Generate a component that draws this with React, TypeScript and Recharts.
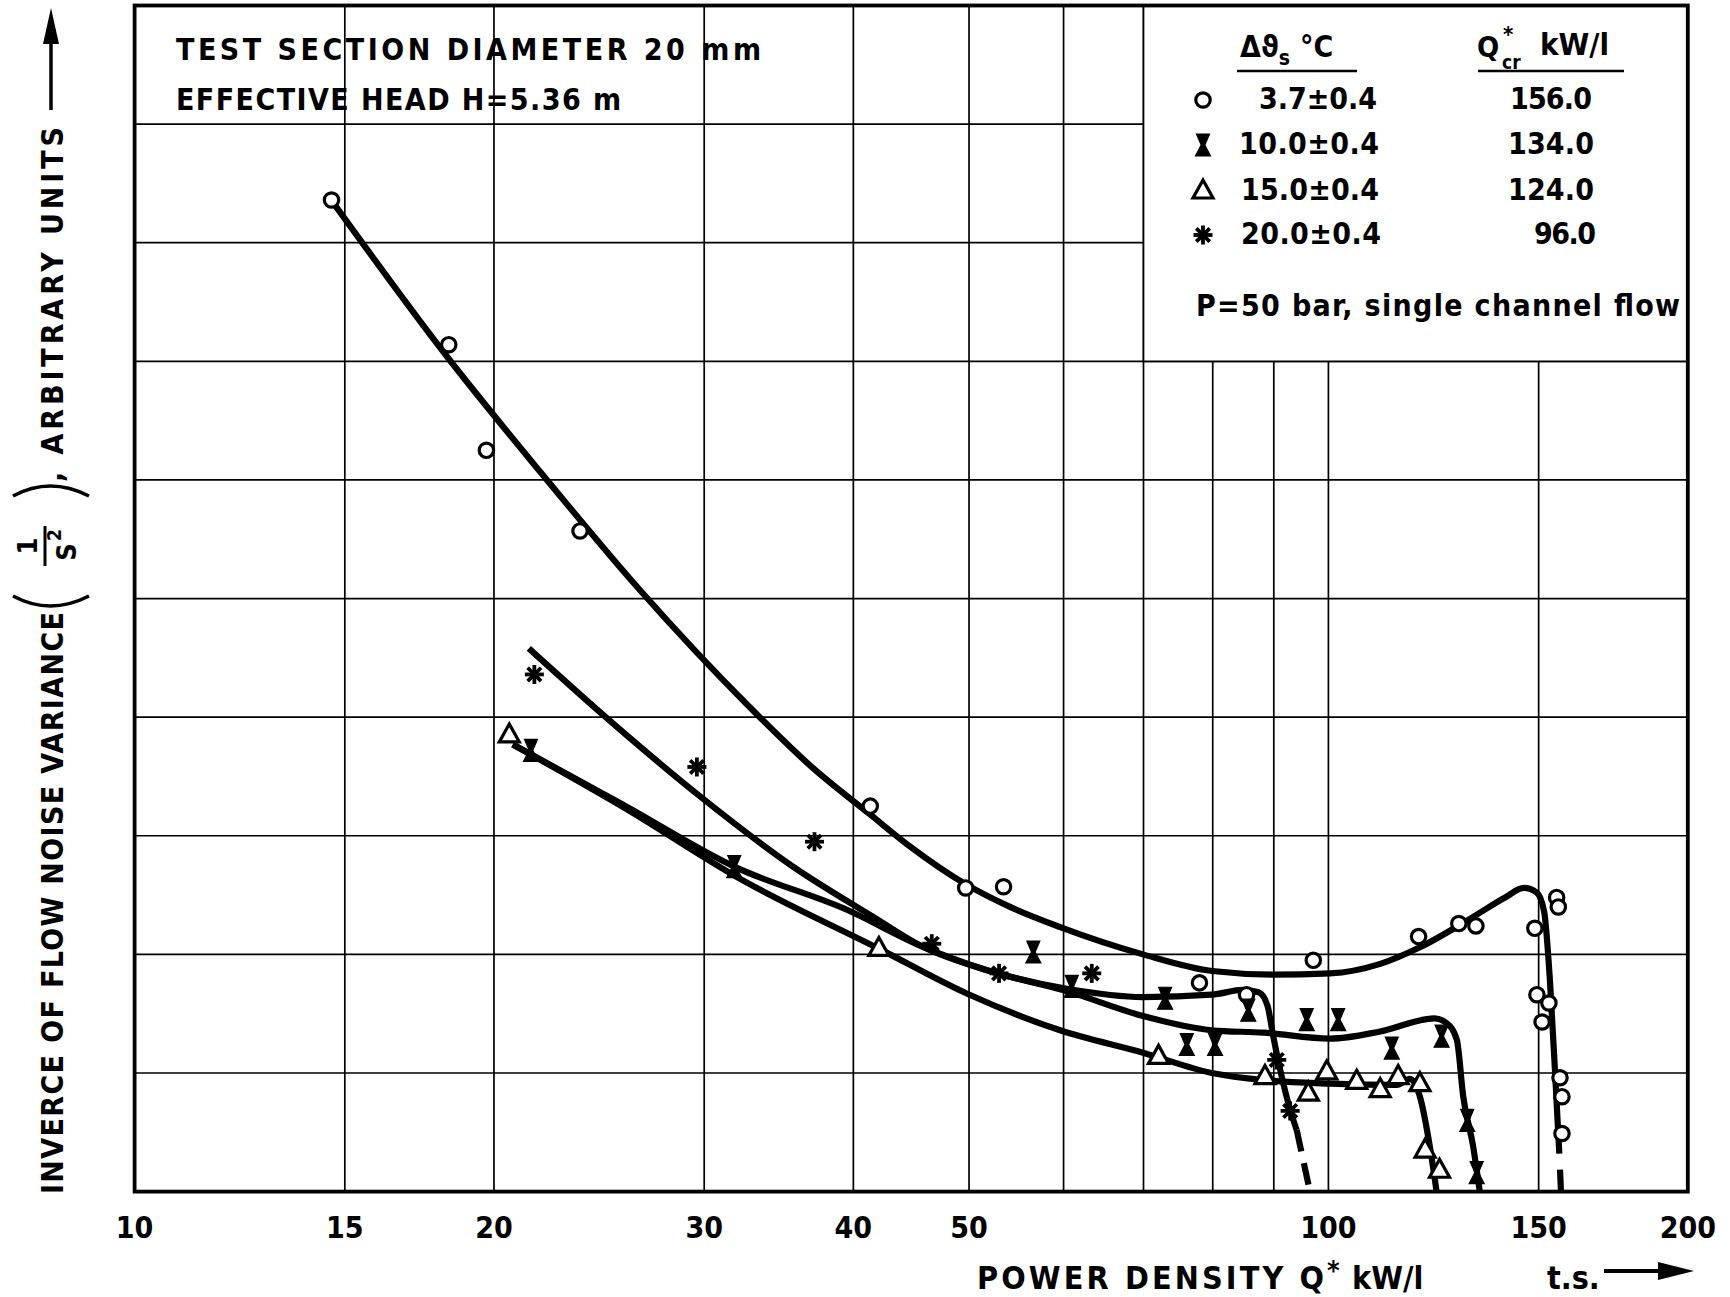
import React from 'react';
import { ComposedChart, Line, Scatter, XAxis, YAxis, CartesianGrid, ReferenceArea } from 'recharts';

const W = 1730;
const H = 1297;
const FONT = "'DejaVu Sans Condensed', 'DejaVu Sans', sans-serif";

// ---- axes ----
const xTicks = [10, 15, 20, 30, 40, 50, 60, 70, 80, 90, 100, 150, 200];
const xLabelled = [10, 15, 20, 30, 40, 50, 100, 150, 200];
const yTicks = [0, 1, 2, 3, 4, 5, 6, 7, 8, 9, 10];

// ---- measured points (Q* kW/l, arbitrary units) ----
const circlePts: [number, number][] = [
  [14.62, 8.36], [18.33, 7.14], [19.71, 6.25], [23.61, 5.57], [41.33, 3.25], [49.68, 2.56],
  [53.44, 2.57], [77.98, 1.76], [85.39, 1.66], [97.13, 1.95], [118.99, 2.15], [128.6, 2.26],
  [132.9, 2.24], [148.9, 2.22], [155.3, 2.48], [155.8, 2.40], [149.5, 1.66], [151.0, 1.43],
  [153.0, 1.59], [156.3, 0.96], [156.9, 0.80], [156.9, 0.49],
];
const hourglassPts: [number, number][] = [
  [21.48, 3.72], [31.79, 2.74], [56.6, 2.02], [60.96, 1.73], [72.98, 1.63], [85.68, 1.53],
  [76.1, 1.24], [80.36, 1.24], [95.9, 1.45], [101.9, 1.45], [113.0, 1.21], [124.4, 1.31],
  [130.7, 0.60], [133.1, 0.16],
];
const trianglePts: [number, number][] = [
  [20.6, 3.85], [42.02, 2.05], [72.06, 1.14], [88.48, 0.97], [96.2, 0.83], [99.68, 1.01],
  [105.6, 0.93], [110.5, 0.86], [114.4, 0.97], [119.3, 0.91], [120.5, 0.35], [123.9, 0.18],
];
const asteriskPts: [number, number][] = [
  [21.62, 4.36], [29.58, 3.58], [37.11, 2.95], [46.53, 2.09], [52.98, 1.84], [63.35, 1.84],
  [90.51, 1.11], [92.88, 0.68],
];

// ---- fitted curves ----
const circleCurve: [number, number][] = [
  [14.66, 8.34], [18.3, 7.03], [21.9, 6.06], [26.51, 5.07], [32.71, 4.09], [37.01, 3.57],
  [41.31, 3.18], [44.62, 2.91], [49.71, 2.59], [54.12, 2.4], [59.6, 2.23], [69.94, 2.0],
  [79.91, 1.86], [89.86, 1.83], [100.3, 1.84], [110.5, 1.92], [119.3, 2.06], [131.9, 2.31],
  [140.6, 2.48], [145.8, 2.56], [149.5, 2.52], [151.6, 2.36], [153.3, 1.78], [155.0, 0.91],
  [156.1, 0.32],
];
const circleTail: [number, number][] = [[156.1, 0.32], [156.6, 0]];
const asteriskCurve: [number, number][] = [
  [21.39, 4.58], [24.81, 4.0], [29.78, 3.33], [35.6, 2.74], [41.5, 2.32], [45.6, 2.07],
  [51.6, 1.87], [60.38, 1.71], [69.93, 1.64], [79.86, 1.66], [84.8, 1.70], [87.4, 1.68],
  [88.9, 1.57], [89.9, 1.31], [91.1, 1.03], [92.88, 0.69], [94.06, 0.52],
];
const asteriskTail: [number, number][] = [[94.06, 0.52], [96.5, 0]];
const hourglassCurve: [number, number][] = [
  [20.74, 3.77], [25.68, 3.26], [31.79, 2.74], [39.63, 2.37], [45.6, 2.07], [51.6, 1.87],
  [60.38, 1.69], [69.93, 1.48], [79.86, 1.36], [88.2, 1.34], [100.3, 1.29], [110.5, 1.35],
  [122.7, 1.46], [125.6, 1.42], [128.1, 1.28], [129.7, 0.8], [132.2, 0.38], [133.9, 0],
];
const triangleCurve: [number, number][] = [
  [20.74, 3.77], [25.68, 3.24], [32.24, 2.63], [42.17, 2.04], [49.78, 1.67], [59.6, 1.36],
  [69.96, 1.17], [79.86, 1.0], [88.2, 0.94], [100.3, 0.91], [114.1, 0.9], [117.0, 0.95],
  [119.3, 0.8], [121.6, 0.38], [123.2, 0],
];

// ---- legend table ----
const legendDelta = ['3.7±0.4', '10.0±0.4', '15.0±0.4', '20.0±0.4'];
const legendQcr = ['156.0', '134.0', '124.0', '96.0'];

const toPts = (a: [number, number][]) => a.map(([x, y]) => ({ x, y }));

// ---- glyphs ----
const CircleGlyph = ({ cx, cy }: any) => (
  <circle cx={cx} cy={cy} r={7.2} fill="#fff" stroke="#000" strokeWidth={3.2} />
);
const TriangleGlyph = ({ cx, cy }: any) => (
  <path d={`M${cx},${cy - 11} L${cx + 10},${cy + 7} L${cx - 10},${cy + 7} Z`} fill="#fff" stroke="#000" strokeWidth={3.2} />
);
const HourglassGlyph = ({ cx, cy }: any) => (
  <path
    d={`M${cx - 6.5},${cy - 11} H${cx + 6.5} L${cx + 1.8},${cy} L${cx + 7.5},${cy + 11} H${cx - 7.5} L${cx - 1.8},${cy} Z`}
    fill="#000" stroke="#000" strokeWidth={1.2}
  />
);
const AsteriskGlyph = ({ cx, cy }: any) => {
  const r = 9.5;
  const spokes = [0, 45, 90, 135].map((a) => {
    const t = (a * Math.PI) / 180;
    return (
      <line key={a} x1={cx - r * Math.cos(t)} y1={cy - r * Math.sin(t)} x2={cx + r * Math.cos(t)} y2={cy + r * Math.sin(t)}
        stroke="#000" strokeWidth={3.8} />
    );
  });
  return <g>{spokes}</g>;
};

const txt = { fontFamily: FONT, fontWeight: 700, fill: '#000', style: { fontStretch: 'condensed' } } as const;

const XTick = (props: any) => {
  const { x, payload } = props;
  if (!xLabelled.includes(payload.value)) return <g />;
  return (
    <text x={x} y={1238} textAnchor="middle" fontSize={30} {...txt}>
      {String(payload.value)}
    </text>
  );
};
const NoTick = () => <g />;

const curveProps = {
  dataKey: 'y',
  type: 'monotone' as const,
  stroke: '#000',
  strokeWidth: 6.2,
  dot: false,
  activeDot: false,
  isAnimationActive: false,
  legendType: 'none' as const,
};

export default function App() {
  return (
    <div style={{ position: 'absolute', left: 0, top: 0, width: W, height: H, background: '#fff' }}>
      <div style={{ position: 'absolute', left: 0, top: 0 }}>
        <ComposedChart width={W} height={H} margin={{ top: 5.5, right: 42.2, left: 134.6, bottom: 75.4 }}>
          <CartesianGrid stroke="#000" strokeWidth={1.7} horizontalValues={yTicks} verticalValues={xTicks} />
          <XAxis
            dataKey="x"
            type="number"
            scale="log"
            domain={[10, 200]}
            ticks={xTicks}
            interval={0}
            allowDataOverflow
            axisLine={false}
            tickLine={false}
            height={30}
            tick={<XTick />}
          />
          <YAxis
            dataKey="y"
            type="number"
            domain={[0, 10]}
            ticks={yTicks}
            interval={0}
            allowDataOverflow
            axisLine={false}
            tickLine={false}
            tick={<NoTick />}
            width={0}
          />
          <ReferenceArea x1={70} x2={200} y1={7} y2={10} fill="#fff" fillOpacity={1} stroke="#000" strokeWidth={1.7} ifOverflow="visible" />
          <Line data={toPts(circleCurve)} {...curveProps} />
          <Line data={toPts(circleTail)} {...curveProps} type="linear" strokeDasharray="0 16 40" />
          <Line data={toPts(asteriskCurve)} {...curveProps} />
          <Line data={toPts(asteriskTail)} {...curveProps} type="linear" strokeDasharray="22 12" />
          <Line data={toPts(hourglassCurve)} {...curveProps} />
          <Line data={toPts(triangleCurve)} {...curveProps} />
          <Scatter data={toPts(circlePts)} shape={(p: any) => <CircleGlyph cx={p.cx} cy={p.cy} />} isAnimationActive={false} />
          <Scatter data={toPts(hourglassPts)} shape={(p: any) => <HourglassGlyph cx={p.cx} cy={p.cy} />} isAnimationActive={false} />
          <Scatter data={toPts(trianglePts)} shape={(p: any) => <TriangleGlyph cx={p.cx} cy={p.cy} />} isAnimationActive={false} />
          <Scatter data={toPts(asteriskPts)} shape={(p: any) => <AsteriskGlyph cx={p.cx} cy={p.cy} />} isAnimationActive={false} />
        </ComposedChart>
      </div>
      <svg width={W} height={H} style={{ position: 'absolute', left: 0, top: 0, pointerEvents: 'none' }}>
        {/* plot frame */}
        <rect x={134.6} y={5.5} width={1553.2} height={1186.1} fill="none" stroke="#000" strokeWidth={3.8} />

        {/* top-left notes */}
        <text x={176} y={60} fontSize={30} textLength={585} lengthAdjust="spacing" {...txt}>TEST SECTION DIAMETER 20 mm</text>
        <text x={176} y={110} fontSize={30} textLength={445} lengthAdjust="spacing" {...txt}>EFFECTIVE HEAD H=5.36 m</text>

        {/* legend header */}
        <text x={1240} y={57} fontSize={30} {...txt}>
          <tspan>Δϑ</tspan>
          <tspan dy={8} fontSize={21}>s</tspan>
          <tspan dy={-8} dx={10}>°C</tspan>
        </text>
        <line x1={1237} y1={71} x2={1357} y2={71} stroke="#000" strokeWidth={2.5} />
        <text x={1477} y={57} fontSize={29} {...txt}>Q</text>
        <text x={1503} y={42} fontSize={22} {...txt}>*</text>
        <text x={1502} y={69} fontSize={19} {...txt}>cr</text>
        <text x={1540} y={55} fontSize={31} {...txt}>kW/l</text>
        <line x1={1478} y1={71} x2={1624} y2={71} stroke="#000" strokeWidth={2.5} />

        {/* legend rows */}
        <CircleGlyph cx={1203} cy={100} />
        <HourglassGlyph cx={1203} cy={145} />
        <TriangleGlyph cx={1203} cy={191} />
        <AsteriskGlyph cx={1203} cy={235} />
        <text x={1259} y={109} fontSize={30} textLength={118} lengthAdjust="spacing" {...txt}>{legendDelta[0]}</text>
        <text x={1239} y={154} fontSize={30} textLength={140} lengthAdjust="spacing" {...txt}>{legendDelta[1]}</text>
        <text x={1241} y={200} fontSize={30} textLength={138} lengthAdjust="spacing" {...txt}>{legendDelta[2]}</text>
        <text x={1241} y={244} fontSize={30} textLength={140} lengthAdjust="spacing" {...txt}>{legendDelta[3]}</text>
        <text x={1510} y={109} fontSize={30} textLength={82} lengthAdjust="spacing" {...txt}>{legendQcr[0]}</text>
        <text x={1508} y={154} fontSize={30} textLength={86} lengthAdjust="spacing" {...txt}>{legendQcr[1]}</text>
        <text x={1508} y={200} fontSize={30} textLength={86} lengthAdjust="spacing" {...txt}>{legendQcr[2]}</text>
        <text x={1534} y={244} fontSize={30} textLength={62} lengthAdjust="spacing" {...txt}>{legendQcr[3]}</text>
        <text x={1196} y={316} fontSize={30} textLength={484} lengthAdjust="spacing" {...txt}>P=50 bar, single channel flow</text>

        {/* x-axis title */}
        <text x={977} y={1289} fontSize={32} {...txt}>
          <tspan textLength={347} lengthAdjust="spacing">POWER DENSITY Q</tspan>
          <tspan dy={-9} fontSize={27}>*</tspan>
          <tspan x={1352} dy={9}>kW/l</tspan>
        </text>
        <text x={1547} y={1289} fontSize={32} {...txt}>t.s.</text>
        <line x1={1604} y1={1271} x2={1665} y2={1271} stroke="#000" strokeWidth={4} />
        <path d="M1658,1262 L1694,1271 L1658,1280 Z" fill="#000" />

        {/* y-axis title (rotated) */}
        <g transform="translate(63,1194) rotate(-90)">
          <text x={0} y={0} fontSize={30} textLength={582} lengthAdjust="spacing" {...txt}>INVERCE OF FLOW NOISE VARIANCE</text>
          <path d="M598,-50 Q578,-13 598,26" fill="none" stroke="#000" strokeWidth={3.5} />
          <text x={648} y={-26} fontSize={27} textAnchor="middle" {...txt}>1</text>
          <line x1={628} y1={-18} x2={668} y2={-18} stroke="#000" strokeWidth={3} />
          <text x={642} y={13} fontSize={27} textAnchor="middle" {...txt}>S</text>
          <text x={659} y={-2} fontSize={19} textAnchor="middle" {...txt}>2</text>
          <path d="M698,-50 Q718,-13 698,26" fill="none" stroke="#000" strokeWidth={3.5} />
          <text x={712} y={0} fontSize={30} textLength={355} lengthAdjust="spacing" {...txt}>, ARBITRARY UNITS</text>
          <line x1={1084} y1={-12} x2={1160} y2={-12} stroke="#000" strokeWidth={3.5} />
          <path d="M1150,-20 L1186,-12 L1150,-4 Z" fill="#000" />
        </g>
      </svg>
    </div>
  );
}
